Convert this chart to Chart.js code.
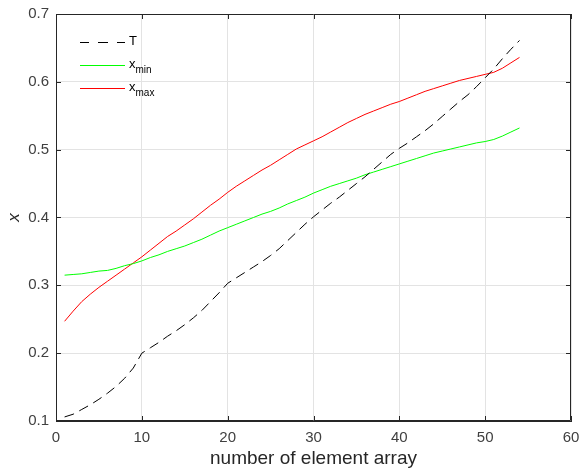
<!DOCTYPE html>
<html>
<head>
<meta charset="utf-8">
<script src="https://cdn.jsdelivr.net/npm/chart.js@4/dist/chart.umd.min.js"></script>
<style>
  html, body { margin: 0; padding: 0; background: #fff; }
  #wrap { position: relative; width: 580px; height: 474px; }
  #legend { position: absolute; left: 80px; top: 33px; font-family: "Liberation Sans", Arial, sans-serif; font-size: 13px; color: #000; }
  #legend .row { position: relative; height: 23px; }
  #legend .line { position: absolute; left: 0; top: 9px; width: 45px; height: 0; }
  #legend .txt { position: absolute; left: 49px; top: 0; white-space: nowrap; }
  #legend sub { font-size: 10px; vertical-align: -5px; }
</style>
</head>
<body>
<div id="wrap">
  <canvas id="chart" width="580" height="474"></canvas>
  <div id="legend">
    <div class="row"><div class="line" style="border-top:1px dashed #000;border-image:repeating-linear-gradient(90deg,#000 0 10px,transparent 10px 18px) 1;"></div><span class="txt">T</span></div>
    <div class="row"><div class="line" style="border-top:1px solid #00ff00;"></div><span class="txt">x<sub>min</sub></span></div>
    <div class="row"><div class="line" style="border-top:1px solid #ff0000;"></div><span class="txt">x<sub>max</sub></span></div>
  </div>
</div>
<script>
const xs = []
for (let i = 1; i <= 54; i++) xs.push(i)

const tValues = [
  0.106, 0.110, 0.117, 0.124, 0.132, 0.141, 0.151, 0.163, 0.178, 0.200,
  0.208, 0.216, 0.225, 0.233, 0.242, 0.252, 0.263, 0.276, 0.289, 0.303,
  0.311, 0.319, 0.327, 0.335, 0.344, 0.354, 0.366, 0.378, 0.390, 0.401,
  0.411, 0.421, 0.430, 0.440, 0.450, 0.460, 0.471, 0.482, 0.493, 0.502,
  0.510, 0.519, 0.528, 0.538, 0.549, 0.560, 0.571, 0.581, 0.593, 0.606,
  0.619, 0.634, 0.648, 0.661
]

const xMin = [
  0.315, 0.316, 0.317, 0.319, 0.321, 0.322, 0.325, 0.329, 0.332, 0.336,
  0.341, 0.345, 0.350, 0.354, 0.358, 0.363, 0.368, 0.374, 0.380, 0.385,
  0.390, 0.395, 0.400, 0.405, 0.409, 0.414, 0.420, 0.425, 0.430, 0.436,
  0.441, 0.446, 0.450, 0.454, 0.458, 0.463, 0.467, 0.471, 0.475, 0.479,
  0.483, 0.487, 0.491, 0.495, 0.498, 0.501, 0.504, 0.507, 0.510, 0.512,
  0.515, 0.520, 0.526, 0.532
]

const xMax = [
  0.247, 0.262, 0.276, 0.287, 0.297, 0.306, 0.315, 0.324, 0.333, 0.342,
  0.352, 0.362, 0.372, 0.380, 0.389, 0.398, 0.408, 0.418, 0.427, 0.437,
  0.446, 0.454, 0.462, 0.470, 0.477, 0.485, 0.493, 0.501, 0.507, 0.513,
  0.519, 0.526, 0.533, 0.540, 0.546, 0.552, 0.557, 0.562, 0.567, 0.571,
  0.576, 0.581, 0.586, 0.590, 0.594, 0.598, 0.602, 0.605, 0.608, 0.611,
  0.614, 0.620, 0.628, 0.636
]

const xTicks = [0, 10, 20, 30, 40, 50, 60]
const yTicks = [0.1, 0.2, 0.3, 0.4, 0.5, 0.6, 0.7]

const toPoints = vals => vals.map((v, i) => ({ x: xs[i], y: v }))
const axisColor = '#262626'
const labelColor = '#404040'
const fontFamily = '"Liberation Sans", Arial, sans-serif'

// matlab style box with inward ticks
const boxPlugin = {
  id: 'box',
  afterDraw (chart) {
    const { ctx, chartArea: a, scales } = chart
    ctx.save()
    ctx.strokeStyle = axisColor
    ctx.lineWidth = 1
    ctx.beginPath()
    ctx.rect(a.left + 0.5, a.top + 0.5, a.right - a.left - 1, a.bottom - a.top - 1)
    xTicks.forEach(t => {
      const px = Math.round(scales.x.getPixelForValue(t)) + 0.5
      ctx.moveTo(px, a.bottom); ctx.lineTo(px, a.bottom - 5)
      ctx.moveTo(px, a.top); ctx.lineTo(px, a.top + 5)
    })
    yTicks.forEach(t => {
      const py = Math.round(scales.y.getPixelForValue(t)) + 0.5
      ctx.moveTo(a.left, py); ctx.lineTo(a.left + 5, py)
      ctx.moveTo(a.right, py); ctx.lineTo(a.right - 5, py)
    })
    ctx.stroke()
    ctx.restore()
  }
}

new Chart(document.getElementById('chart'), {
  type: 'line',
  data: {
    datasets: [
      { label: 'T', data: toPoints(tValues), borderColor: '#000000', borderDash: [10, 6], borderWidth: 1 },
      { label: 'x_min', data: toPoints(xMin), borderColor: '#00ff00', borderWidth: 1 },
      { label: 'x_max', data: toPoints(xMax), borderColor: '#ff0000', borderWidth: 1 }
    ]
  },
  options: {
    responsive: false,
    animation: false,
    layout: { padding: { top: 14, right: 9, left: 0, bottom: 0 } },
    elements: { point: { radius: 0 }, line: { tension: 0 } },
    plugins: { legend: { display: false }, tooltip: { enabled: false } },
    scales: {
      x: {
        type: 'linear',
        min: 0,
        max: 60,
        afterBuildTicks: s => { s.ticks = xTicks.map(v => ({ value: v })) },
        afterFit: s => { s.height = 53; s.paddingLeft = 0; s.paddingRight = 0 },
        grid: { color: '#e3e3e3', drawTicks: false },
        border: { color: axisColor },
        ticks: { color: labelColor, padding: 8, font: { family: fontFamily, size: 15 } },
        title: { display: true, text: 'number of element array', color: axisColor, padding: { top: 4 }, font: { family: fontFamily, size: 19 } }
      },
      y: {
        type: 'linear',
        min: 0.1,
        max: 0.7,
        afterBuildTicks: s => { s.ticks = yTicks.map(v => ({ value: v })) },
        afterFit: s => { s.width = 56; s.paddingTop = 0; s.paddingBottom = 0 },
        grid: { color: '#e3e3e3', drawTicks: false },
        border: { color: axisColor },
        ticks: { color: labelColor, padding: 7, font: { family: fontFamily, size: 15 }, callback: v => v.toFixed(1) },
        title: { display: true, text: 'x', color: axisColor, padding: { bottom: 0 }, font: { family: fontFamily, size: 17, style: 'italic' } }
      }
    }
  },
  plugins: [boxPlugin]
})
</script>
</body>
</html>
